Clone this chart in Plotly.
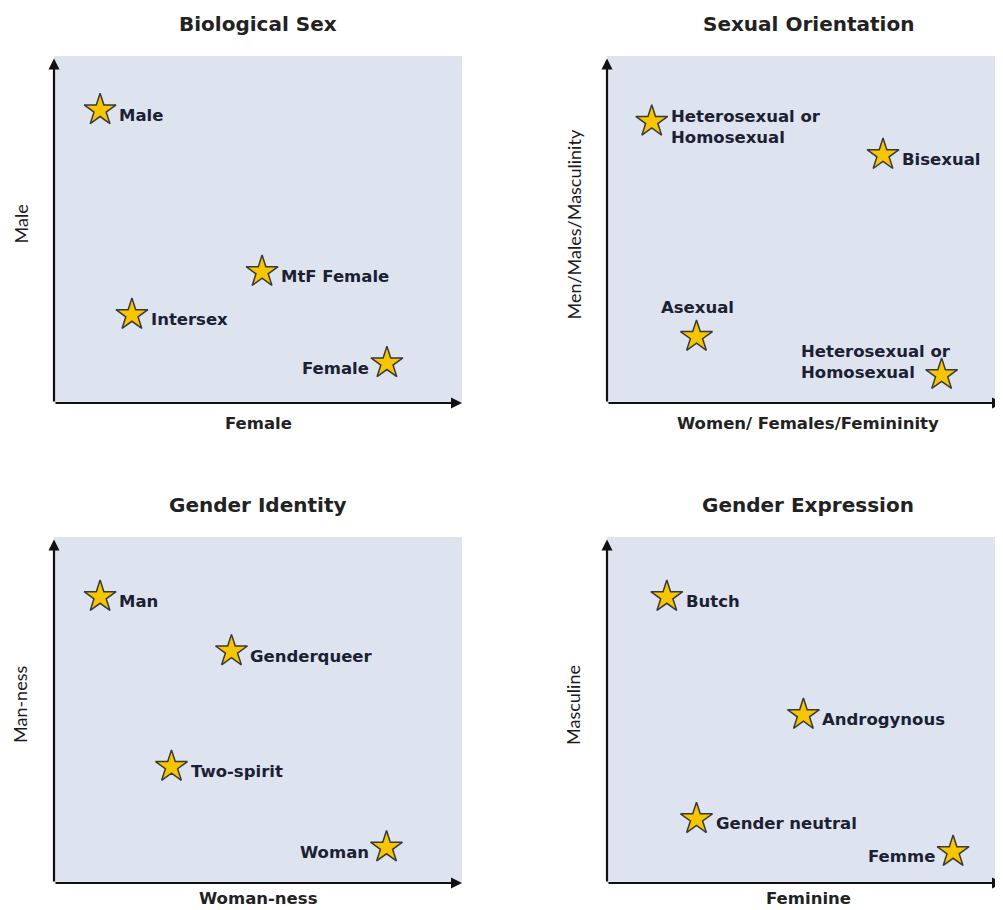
import plotly.graph_objects as go

# ---------------- data ----------------
titles = ["Biological Sex", "Sexual Orientation", "Gender Identity", "Gender Expression"]
x_titles = ["Female", "Women/ Females/Femininity", "Woman-ness", "Feminine"]
y_titles = ["Male", "Men/Males/Masculinity", "Man-ness", "Masculine"]

bio_names = ["Male", "MtF Female", "Intersex", "Female"]
bio_x = [11.3, 51.0, 19.1, 81.6]
bio_y = [84.4, 37.8, 25.4, 11.5]

orient_names = ["Heterosexual or<br>Homosexual", "Bisexual", "Asexual", "Heterosexual or<br>Homosexual"]
orient_x = [11.3, 69.7, 22.6, 84.5]
orient_y = [81.1, 71.5, 19.1, 8.1]

ident_names = ["Man", "Genderqueer", "Two-spirit", "Woman"]
ident_x = [11.3, 43.5, 28.8, 81.5]
ident_y = [82.7, 67.0, 33.6, 10.3]

expr_names = ["Butch", "Androgynous", "Gender neutral", "Femme"]
expr_x = [15.1, 49.6, 22.6, 87.4]
expr_y = [82.7, 48.6, 18.5, 9.0]

# ---------------- style ----------------
OFF = 8                      # page body margin
W, H = 1003 - OFF, 910 - OFF
label_side = [
    ["r", "r", "r", "l"],
    ["r", "r", "t", "tl"],
    ["r", "r", "r", "l"],
    ["r", "r", "r", "l"],
]
panels = [
    (bio_names, bio_x, bio_y),
    (orient_names, orient_x, orient_y),
    (ident_names, ident_x, ident_y),
    (expr_names, expr_x, expr_y),
]
# pixel boxes (window coords) of the plotting areas: (left, right, top, bottom)
boxes = [(54, 462, 56, 403), (607, 1003, 56, 403), (54, 462, 537, 883), (607, 1003, 537, 883)]

TXT = "#1c2033"
BG = "#dde3ef"
STAR = "#f7c600"
LBL_FONT = dict(family="DejaVu Sans", size=16.5, color=TXT, weight="bold")
TITLE_FONT = dict(family="DejaVu Sans", size=20, color="#222222", weight="bold")
XT_FONT = dict(family="DejaVu Sans", size=16.5, color="#222222", weight="bold")
YT_FONT = dict(family="Lato", size=18, color="#1a1a1a")

fig = go.Figure()
layout = dict(width=W, height=H, margin=dict(l=0, r=0, t=0, b=0),
              paper_bgcolor="white", plot_bgcolor=BG, showlegend=False)
annotations = []

for i, ((names, xs, ys), (l, r, t, b)) in enumerate(zip(panels, boxes)):
    l, r, t, b = l - OFF, r - OFF, t - OFF, b - OFF
    sfx = "" if i == 0 else str(i + 1)
    xa, ya = "x" + sfx, "y" + sfx
    layout["xaxis" + sfx] = dict(domain=[l / W, min(r / W, 1)], range=[0, 100], showgrid=False,
                                 zeroline=False, showticklabels=False, showline=False,
                                 ticks="", fixedrange=True, anchor=ya)
    layout["yaxis" + sfx] = dict(domain=[1 - b / H, 1 - t / H], range=[0, 100], showgrid=False,
                                 zeroline=False, showticklabels=False, showline=False,
                                 ticks="", fixedrange=True, anchor=xa)
    fig.add_trace(go.Scatter(x=xs, y=ys, mode="markers", xaxis=xa, yaxis=ya,
                             cliponaxis=False, hoverinfo="text", hovertext=names,
                             marker=dict(symbol="star", size=24, color=STAR,
                                         line=dict(color="#3a3a3a", width=1.5))))
    # labels
    for name, x, y, side in zip(names, xs, ys, label_side[i]):
        a = dict(x=x, y=y, xref=xa, yref=ya, text=name, showarrow=False, font=LBL_FONT)
        if side == "r":
            a.update(xanchor="left", yanchor="middle", xshift=17, yshift=-5, align="left")
        elif side == "l":
            a.update(xanchor="right", yanchor="middle", xshift=-16, yshift=-5, align="right")
        elif side == "t":
            a.update(xanchor="center", yanchor="middle", xshift=1, yshift=29)
        elif side == "tl":
            a.update(xanchor="right", yanchor="middle", xshift=11, yshift=13, align="left")
        annotations.append(a)
    # axis arrows
    annotations.append(dict(x=100, y=0, ax=0, ay=0, xref=xa, yref=ya, axref=xa, ayref=ya,
                            text="", showarrow=True, arrowhead=2, arrowsize=1, arrowwidth=2.2,
                            arrowcolor="#111111"))
    annotations.append(dict(x=0, y=99.3, ax=0, ay=0, xref=xa, yref=ya, axref=xa, ayref=ya,
                            text="", showarrow=True, arrowhead=2, arrowsize=1, arrowwidth=2.2,
                            arrowcolor="#111111"))
    # titles
    xs_shift = 3 if i % 2 == 1 else 0
    annotations.append(dict(x=0.5, y=1, xref=xa + " domain", yref=ya + " domain", text=titles[i],
                            showarrow=False, xanchor="center", yanchor="middle",
                            xshift=xs_shift, yshift=32, font=TITLE_FONT))
    annotations.append(dict(x=0.5, y=0, xref=xa + " domain", yref=ya + " domain", text=x_titles[i],
                            showarrow=False, xanchor="center", yanchor="middle",
                            xshift=xs_shift, yshift=-20 if i < 2 else -15, font=XT_FONT))
    annotations.append(dict(x=0, y=0.5, xref=xa + " domain", yref=ya + " domain", text=y_titles[i],
                            showarrow=False, xanchor="center", yanchor="middle", textangle=-90,
                            xshift=-34, yshift=5, font=YT_FONT))

layout["annotations"] = annotations
fig.update_layout(**layout)
fig.write_html("out.html")
